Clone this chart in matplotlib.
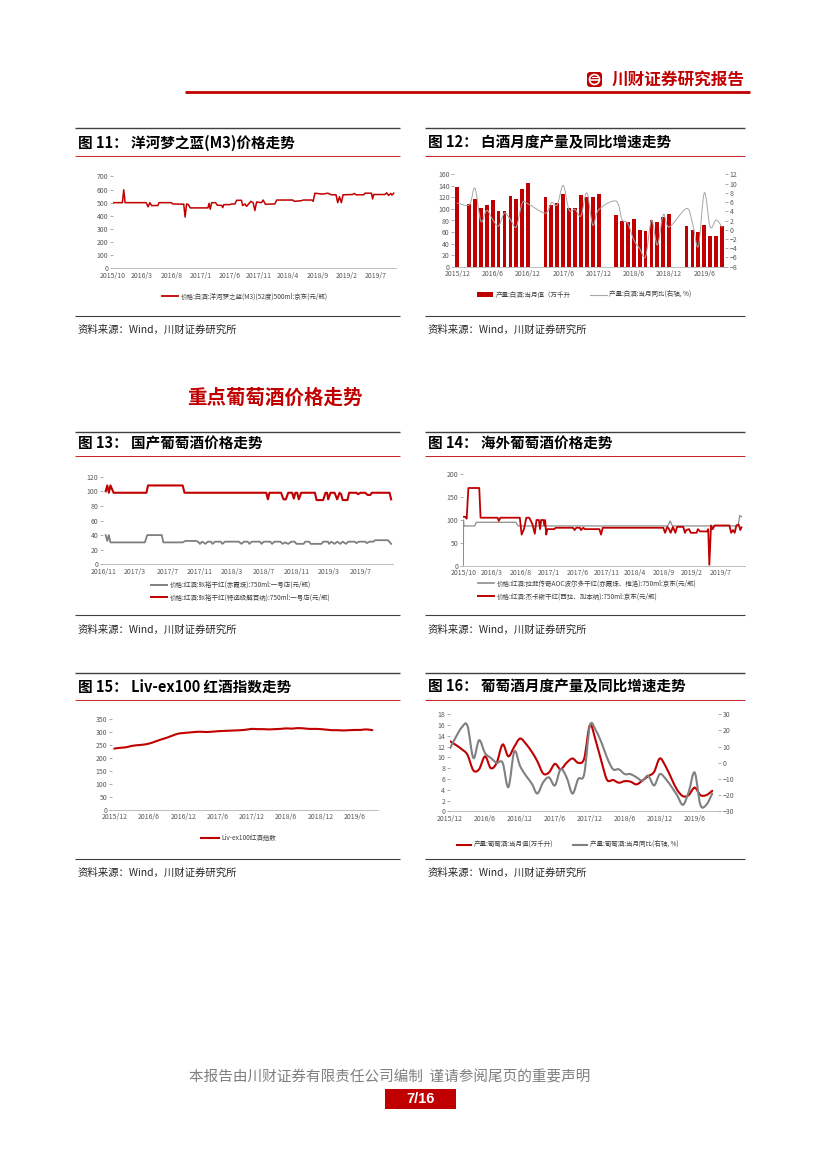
import matplotlib
matplotlib.use("Agg")
import matplotlib.pyplot as plt
import matplotlib.dates as mdates
from matplotlib.path import Path
from matplotlib.patches import PathPatch, Rectangle, FancyBboxPatch, Circle, Patch
from matplotlib.lines import Line2D
import numpy as np
import pandas as pd

plt.rcParams['font.family'] = ['Noto Sans CJK SC', 'DejaVu Sans']

W, H = 827, 1169
RED = '#C00000'
GREY = '#808080'
DARK = '#404040'
TICK = '#595959'

# ---------------- data ----------------
# fig 11: 洋河梦之蓝(M3) price
m3_dates = ['2015-10-01', '2015-11-19', '2015-11-26', '2015-12-03', '2016-03-22', '2016-04-01',
            '2016-04-10', '2016-04-19', '2016-05-22', '2016-05-28', '2016-08-01', '2016-08-07',
            '2016-10-04', '2016-10-11', '2016-10-19', '2016-10-28', '2016-11-07', '2017-02-07',
            '2017-02-13', '2017-02-19', '2017-02-27', '2017-03-19', '2017-03-28', '2017-04-19',
            '2017-04-25', '2017-05-01', '2017-06-01', '2017-06-10', '2017-06-28', '2017-07-07',
            '2017-08-01', '2017-08-07', '2017-08-19', '2017-08-28', '2017-09-10', '2017-09-19',
            '2017-10-01', '2017-10-10', '2017-10-19', '2017-11-13', '2017-11-22', '2017-12-04',
            '2018-01-22', '2018-02-01', '2018-04-25', '2018-05-04', '2018-06-10', '2018-06-19',
            '2018-08-04', '2018-08-10', '2018-08-19', '2018-09-28', '2018-10-25', '2018-11-13',
            '2018-12-07', '2018-12-16', '2018-12-25', '2019-01-04', '2019-01-13', '2019-03-04',
            '2019-03-13', '2019-03-22', '2019-05-01', '2019-05-07', '2019-06-10', '2019-06-16',
            '2019-06-22', '2019-08-19', '2019-08-28', '2019-09-07', '2019-09-19', '2019-09-25',
            '2019-10-04']
m3_price = [500, 500, 598, 500, 500, 468,
            500, 478, 478, 500, 500, 490,
            488, 390, 490, 485, 460, 460,
            495, 450, 500, 500, 480, 480,
            462, 485, 485, 490, 490, 518,
            518, 478, 490, 472, 495, 510,
            500, 440, 505, 500, 520, 488,
            490, 520, 520, 510, 515, 520,
            520, 510, 572, 565, 572, 560,
            560, 500, 545, 500, 560, 562,
            570, 560, 560, 572, 572, 528,
            562, 562, 575, 555, 570, 558,
            572]

# fig 12: baijiu monthly output and yoy
baijiu_months = ['2015-12', '2016-02', '2016-03', '2016-04', '2016-05', '2016-06', '2016-07',
                 '2016-08', '2016-09', '2016-10', '2016-11', '2016-12',
                 '2017-03', '2017-04', '2017-05', '2017-06', '2017-07', '2017-08', '2017-09',
                 '2017-10', '2017-11', '2017-12',
                 '2018-03', '2018-04', '2018-05', '2018-06', '2018-07', '2018-08', '2018-09',
                 '2018-10', '2018-11', '2018-12',
                 '2019-03', '2019-04', '2019-05', '2019-06', '2019-07', '2019-08', '2019-09']
baijiu_output = [138, 108, 118, 102, 106, 116, 97, 97, 123, 118, 135, 145,
                 121, 107, 110, 126, 101, 101, 125, 120, 120, 126,
                 90, 79, 78, 83, 63, 61, 81, 77, 86, 91,
                 71, 63, 60, 73, 53, 53, 70]
baijiu_yoy = [5.8, 5.4, 9.0, 1.8, 4.2, 2.2, 0.8, 3.6, 2.2, 0.6, 5.8, 5.6,
              3.6, 5.9, 5.4, 9.6, 4.3, 4.4, 3.0, 8.0, 1.0, 4.3,
              6.2, 2.2, 1.4, -2.2, -4.0, -5.8, 2.1, -3.3, 3.3, 0.6,
              4.6, 1.4, -3.6, 8.0, 0.6, 2.1, 0.6]

# fig 13: domestic wine prices
cx_dates = ['2016-11-10', '2016-11-16', '2016-11-22', '2016-11-28', '2016-12-10', '2017-04-13',
            '2017-04-19', '2017-08-28', '2017-09-04', '2018-07-10', '2018-07-16', '2018-07-22',
            '2018-09-04', '2018-09-13', '2018-09-22', '2018-10-01', '2018-10-16', '2018-10-22',
            '2018-10-28', '2018-11-04', '2018-11-10', '2018-11-19', '2019-01-10', '2019-01-16',
            '2019-02-10', '2019-02-19', '2019-02-25', '2019-03-01', '2019-03-10', '2019-03-25',
            '2019-04-04', '2019-04-13', '2019-04-19', '2019-04-25', '2019-05-13', '2019-05-19',
            '2019-06-16', '2019-06-22', '2019-07-01', '2019-07-19', '2019-07-28', '2019-08-07',
            '2019-08-13', '2019-10-19', '2019-10-25']
cx_price = [100, 108, 98, 108, 98, 98,
            108, 108, 98, 98, 89, 98,
            98, 89, 89, 98, 98, 90,
            98, 98, 89, 98, 98, 88,
            88, 98, 98, 89, 98, 98,
            89, 98, 96, 88, 88, 98,
            98, 96, 98, 98, 95, 95,
            98, 98, 89]
chx_dates = ['2016-11-10', '2016-11-16', '2016-11-22', '2016-11-28', '2017-04-07', '2017-04-16',
             '2017-06-10', '2017-06-16', '2017-08-28', '2017-09-07', '2017-10-16', '2017-10-25',
             '2017-11-01', '2017-11-10', '2017-11-22', '2017-12-01', '2017-12-13', '2017-12-19',
             '2017-12-28', '2018-01-19', '2018-01-25', '2018-02-04', '2018-03-28', '2018-04-07',
             '2018-04-16', '2018-05-01', '2018-05-07', '2018-05-16', '2018-06-16', '2018-06-22',
             '2018-07-01', '2018-07-25', '2018-08-01', '2018-08-10', '2018-09-01', '2018-09-10',
             '2018-09-19', '2018-10-01', '2018-10-13', '2018-10-25', '2018-11-01', '2018-11-28',
             '2018-12-04', '2018-12-19', '2018-12-25', '2019-02-04', '2019-02-10', '2019-02-28',
             '2019-03-04', '2019-03-13', '2019-03-25', '2019-04-04', '2019-04-16', '2019-04-25',
             '2019-05-07', '2019-05-16', '2019-06-10', '2019-06-16', '2019-06-25', '2019-07-19',
             '2019-07-25', '2019-08-04', '2019-08-19', '2019-08-25', '2019-10-13', '2019-10-25']
chx_price = [40, 32, 40, 30, 30, 40,
             40, 30, 30, 32, 32, 31,
             28, 31, 28, 31, 31, 28,
             31, 31, 28, 31, 31, 28,
             31, 31, 28, 31, 31, 28,
             31, 31, 28, 31, 31, 28,
             30, 28, 31, 31, 28, 28,
             31, 31, 28, 28, 31, 31,
             28, 31, 28, 31, 28, 31,
             28, 31, 31, 29, 31, 31,
             29, 31, 31, 33, 33, 28]

# fig 14: imported wine prices
lafite_dates = ['2015-10-01', '2015-10-02', '2015-10-04', '2015-12-01', '2015-12-10', '2016-07-07',
                '2016-07-19', '2018-09-25', '2018-10-07', '2018-10-19', '2019-10-04', '2019-10-13',
                '2019-10-22']
lafite_price = [0, 100, 87, 87, 95, 95,
                87, 87, 98, 87, 87, 110,
                107]
jacobs_dates = ['2015-10-01', '2015-10-11', '2015-10-19', '2015-10-28', '2015-12-25', '2016-01-01',
                '2016-04-01', '2016-04-07', '2016-04-16', '2016-07-28', '2016-08-07', '2016-08-19',
                '2016-09-01', '2016-09-16', '2016-09-25', '2016-10-04', '2016-10-16', '2016-10-25',
                '2016-11-07', '2016-11-13', '2016-11-19', '2016-12-01', '2016-12-07', '2016-12-10',
                '2016-12-16', '2016-12-22', '2017-01-28', '2017-02-04', '2017-05-07', '2017-05-16',
                '2017-05-25', '2017-06-13', '2017-06-19', '2017-07-01', '2017-07-10', '2017-09-25',
                '2017-10-04', '2017-10-13', '2018-09-01', '2018-09-10', '2018-09-22', '2018-10-01',
                '2018-10-10', '2018-10-22', '2018-11-04', '2018-11-13', '2018-12-16', '2018-12-25',
                '2019-01-01', '2019-01-16', '2019-01-25', '2019-02-25', '2019-03-04', '2019-03-16',
                '2019-04-22', '2019-04-28', '2019-05-04', '2019-05-13', '2019-05-22', '2019-06-01',
                '2019-08-19', '2019-08-28', '2019-09-07', '2019-09-16', '2019-09-25', '2019-10-07',
                '2019-10-16', '2019-10-22']
jacobs_price = [107, 107, 103, 170, 170, 105,
                105, 98, 105, 105, 68, 80,
                105, 105, 98, 90, 70, 100,
                100, 80, 100, 100, 88, 100,
                68, 80, 80, 83, 83, 78,
                83, 83, 78, 83, 80, 80,
                68, 83, 83, 72, 85, 80,
                72, 85, 72, 85, 85, 72,
                78, 80, 72, 72, 80, 75,
                75, 80, 2, 88, 80, 88,
                88, 72, 78, 72, 88, 90,
                78, 84]

# fig 15: Liv-ex 100, monthly from 2015/12
liv_index = [237, 240, 242, 247, 250, 252, 256, 263, 271, 278, 286, 294, 297,
             299, 301, 302, 301, 302, 304, 305, 306, 307, 308, 310, 313,
             312, 312, 311, 312, 313, 315, 314, 316, 315, 313, 313, 312,
             310, 308, 308, 307, 308, 309, 309, 311, 308]

# fig 16: wine monthly output and yoy, monthly from 2015/12
wine_output = [13.0, 12.3, 11.5, 10.5, 7.6, 7.8, 10.2, 8.0, 9.0, 12.4, 10.2, 12.0,
               13.5, 12.5, 11.0, 9.3, 7.0, 7.2, 8.8, 7.8, 9.0, 9.8, 9.0, 9.8,
               16.0, 13.0, 9.0, 5.8, 5.8, 5.3, 5.6, 5.5, 5.0, 5.7, 6.5, 7.3,
               9.8, 8.3, 6.0, 4.0, 2.8, 3.0, 4.4, 3.0, 3.0, 3.8]
wine_yoy = [9, 16, 22, 23, 3, 14, 6, 3, 0, 0, -15, 7,
            -2, -8, -13, -19, -12, -9, -14, -4, -9, -19, -10, -7,
            23, 20, 12, 3, -4, -4, -7, -7, -9, -11, -8, -14,
            -7, -10, -15, -20, -26, -18, -6, -26, -26, -19]

ticks_5m = ['2015/10', '2016/3', '2016/8', '2017/1', '2017/6', '2017/11', '2018/4', '2018/9',
            '2019/2', '2019/7']
ticks_4m = ['2016/11', '2017/3', '2017/7', '2017/11', '2018/3', '2018/7', '2018/11', '2019/3',
            '2019/7']
ticks_6m = ['2015/12', '2016/6', '2016/12', '2017/6', '2017/12', '2018/6', '2018/12', '2019/6']


def dnum(values):
    return mdates.date2num(pd.to_datetime(values))


def tick_pos(labels):
    return dnum([s.replace('/', '-') + '-01' for s in labels])


def px_axes(fig, x0, y_top, x1, y_bot):
    return fig.add_axes([x0 / W, 1 - y_bot / H, (x1 - x0) / W, (y_bot - y_top) / H])


def style(ax, xlim, xlabels, ylim, yticks):
    ax.patch.set_alpha(0)
    ax.set_xlim(dnum(xlim))
    ax.set_ylim(ylim)
    ax.set_xticks(tick_pos(xlabels))
    ax.set_xticklabels(xlabels)
    ax.set_yticks(yticks)
    for s in ['top', 'right', 'left']:
        ax.spines[s].set_visible(False)
    ax.spines['bottom'].set_color('#BFBFBF')
    ax.spines['bottom'].set_linewidth(0.7)
    ax.tick_params(axis='x', length=0, labelsize=5, labelcolor=TICK, pad=2.5)
    ax.tick_params(axis='y', length=2, width=0.5, color='#8C8C8C', labelsize=5,
                   labelcolor=TICK, pad=1.5)


def smooth_line(ax, x, y, **kw):
    # draw a smoothed (Catmull-Rom style) curve through the points
    x = np.asarray(x, float)
    y = np.asarray(y, float)
    n = len(x)
    verts = [(x[0], y[0])]
    codes = [Path.MOVETO]
    for i in range(n - 1):
        xa, ya = (x[i - 1], y[i - 1]) if i > 0 else (x[i], y[i])
        xb, yb = (x[i + 2], y[i + 2]) if i < n - 2 else (x[i + 1], y[i + 1])
        verts.append((x[i] + (x[i + 1] - xa) / 6, y[i] + (y[i + 1] - ya) / 6))
        verts.append((x[i + 1] - (xb - x[i]) / 6, y[i + 1] - (yb - y[i]) / 6))
        verts.append((x[i + 1], y[i + 1]))
        codes += [Path.CURVE4] * 3
    ax.add_patch(PathPatch(Path(verts, codes), fill=False, capstyle='round', **kw))


def legend(ax, bg, handles, labels, x, y, ncol=1, hl=2.5, colsp=3.0):
    ax.legend(handles, labels, loc='center left', bbox_to_anchor=(x, y),
              bbox_transform=bg.transData, frameon=False, ncol=ncol, fontsize=4.7,
              borderpad=0, borderaxespad=0, handlelength=hl, handletextpad=0.4,
              columnspacing=colsp, labelspacing=0.75, labelcolor='#404040')


fig = plt.figure(figsize=(W / 100, H / 100), dpi=100)
bg = fig.add_axes([0, 0, 1, 1])
bg.set_xlim(0, W)
bg.set_ylim(H, 0)
bg.axis('off')

# header
bg.plot([185, 750], [92, 92], color=RED, lw=2.0, solid_capstyle='butt')
bg.add_patch(FancyBboxPatch((587, 72), 15, 15, boxstyle='round,pad=0,rounding_size=3',
                            facecolor=RED, edgecolor='none'))
bg.add_patch(Circle((594.5, 79.5), 5.0, facecolor='none', edgecolor='white', lw=1.2))
bg.plot([590.5, 598.5], [79.5, 79.5], color='white', lw=1.2)
bg.plot([592, 597], [77, 77], color='white', lw=0.8)
bg.text(612, 80, '川财证券研究报告', color=RED, fontsize=12, fontweight='bold',
        ha='left', va='center')

# panel frames
rows = [(128, 155.5, 315.5, 142.5, 329.5), (432, 456, 615, 443, 629.5),
        (672.5, 700, 859, 686.5, 872.5)]
cols = [(75, 400), (425, 745)]
titles = [['图 11： 洋河梦之蓝(M3)价格走势', '图 12： 白酒月度产量及同比增速走势'],
          ['图 13： 国产葡萄酒价格走势', '图 14： 海外葡萄酒价格走势'],
          ['图 15： Liv-ex100 红酒指数走势', '图 16： 葡萄酒月度产量及同比增速走势']]
for r, (ytop, yred, ybot, ytitle, ysrc) in enumerate(rows):
    for c, (x0, x1) in enumerate(cols):
        bg.plot([x0, x1], [ytop, ytop], color=DARK, lw=1.0, solid_capstyle='butt')
        bg.plot([x0, x1], [yred, yred], color=RED, lw=0.6, solid_capstyle='butt')
        bg.plot([x0, x1], [ybot, ybot], color=DARK, lw=0.8, solid_capstyle='butt')
        bg.text(x0 + 3, ytitle, titles[r][c], fontsize=10.5, fontweight='bold',
                color='black', ha='left', va='center')
        bg.text(x0 + 3, ysrc, '资料来源：Wind，川财证券研究所', fontsize=7.5,
                color='#262626', ha='left', va='center')

bg.text(275, 398, '重点葡萄酒价格走势', color=RED, fontsize=14, fontweight='bold',
        ha='center', va='center')

# footer
bg.text(390, 1077, '本报告由川财证券有限责任公司编制  谨请参阅尾页的重要声明', color='#7F7F7F',
        fontsize=10.5, ha='center', va='center')
bg.add_patch(Rectangle((385, 1089), 71, 20, facecolor=RED, edgecolor='none'))
bg.text(420.5, 1099, '7/16', color='white', fontsize=10.5, fontweight='bold',
        family='Liberation Sans', ha='center', va='center')

# ---- fig 11 ----
ax = px_axes(fig, 113, 176.4, 396, 268.3)
style(ax, ['2015-10-01', '2019-10-16'], ticks_5m, (0, 700), range(0, 701, 100))
ax.plot(dnum(m3_dates), m3_price, color=RED, lw=1.1)
legend(ax, bg, [Line2D([], [], color=RED, lw=1.3)],
       ['价格:白酒:洋河梦之蓝(M3)(52度)500ml:京东(元/瓶)'], 162, 296.5)

# ---- fig 12 ----
ax = px_axes(fig, 454.4, 174.3, 725, 266.7)
style(ax, ['2015-11-16', '2019-09-16'], ticks_6m, (0, 160), range(0, 161, 20))
bx = dnum([m + '-01' for m in baijiu_months])
ax.bar(bx, baijiu_output, width=20, color=RED)
ax2 = ax.twinx()
ax2.set_ylim(-8, 12)
ax2.set_yticks(range(-8, 13, 2))
for s in ['top', 'right', 'left', 'bottom']:
    ax2.spines[s].set_visible(False)
ax2.tick_params(axis='y', length=2, width=0.5, color='#8C8C8C', labelsize=5,
                labelcolor=TICK, pad=1.5)
smooth_line(ax2, bx, baijiu_yoy, edgecolor='#A6A6A6', lw=0.7)
legend(ax, bg, [Patch(facecolor=RED), Line2D([], [], color='#A6A6A6', lw=0.8)],
       ['产量:白酒:当月值（万千升', '产量:白酒:当月同比(右轴, %)'], 476.7, 295, ncol=2)

# ---- fig 13 ----
ax = px_axes(fig, 103.3, 476.7, 393, 564.3)
style(ax, ['2016-11-01', '2019-11-01'], ticks_4m, (0, 120), range(0, 121, 20))
ax.plot(dnum(chx_dates), chx_price, color='#7F7F7F', lw=1.3)
ax.plot(dnum(cx_dates), cx_price, color=RED, lw=1.5)
legend(ax, bg, [Line2D([], [], color='#7F7F7F', lw=1.4), Line2D([], [], color=RED, lw=1.4)],
       ['价格:红酒:张裕干红(赤霞珠):750ml:一号店(元/瓶)',
        '价格:红酒:张裕干红(特选级解百纳):750ml:一号店(元/瓶)'], 151, 591.3)

# ---- fig 14 ----
ax = px_axes(fig, 463.3, 474.3, 745, 565.7)
style(ax, ['2015-10-01', '2019-11-10'], ticks_5m, (0, 200), range(0, 201, 50))
ax.plot(dnum(lafite_dates), lafite_price, color='#8C8C8C', lw=0.9)
ax.plot(dnum(jacobs_dates), jacobs_price, color=RED, lw=1.3)
legend(ax, bg, [Line2D([], [], color='#8C8C8C', lw=1.2), Line2D([], [], color=RED, lw=1.4)],
       ['价格:红酒:拉菲传奇AOC波尔多干红(赤霞珠、梅洛):750ml:京东(元/瓶)',
        '价格:红酒:杰卡斯干红(西拉、加本纳):750ml:京东(元/瓶)'], 478, 590)

# ---- fig 15 ----
ax = px_axes(fig, 112, 719.3, 378, 810)
style(ax, ['2015-11-19', '2019-10-01'], ticks_6m, (0, 350), range(0, 351, 50))
lx = mdates.date2num(pd.date_range('2015-12-01', periods=len(liv_index), freq='MS'))
smooth_line(ax, lx, liv_index, edgecolor=RED, lw=1.5)
legend(ax, bg, [Line2D([], [], color=RED, lw=1.5)], ['Liv-ex100红酒指数'], 201, 838.3, hl=2.7)

# ---- fig 16 ----
ax = px_axes(fig, 450, 714.3, 718, 811.3)
style(ax, ['2015-12-01', '2019-10-01'], ticks_6m, (0, 18), range(0, 19, 2))
wx = mdates.date2num(pd.date_range('2015-12-01', periods=len(wine_output), freq='MS'))
smooth_line(ax, wx, wine_output, edgecolor=RED, lw=1.5)
ax2 = ax.twinx()
ax2.set_ylim(-30, 30)
ax2.set_yticks(range(-30, 31, 10))
for s in ['top', 'right', 'left', 'bottom']:
    ax2.spines[s].set_visible(False)
ax2.tick_params(axis='y', length=2, width=0.5, color='#8C8C8C', labelsize=5,
                labelcolor=TICK, pad=1.5)
smooth_line(ax2, wx, wine_yoy, edgecolor=GREY, lw=1.5)
legend(ax, bg, [Line2D([], [], color=RED, lw=1.5), Line2D([], [], color=GREY, lw=1.5)],
       ['产量:葡萄酒:当月值(万千升)', '产量:葡萄酒:当月同比(右轴, %)'], 456.7, 845, ncol=2,
       hl=2.2)

fig.savefig('out.png', dpi=100)
